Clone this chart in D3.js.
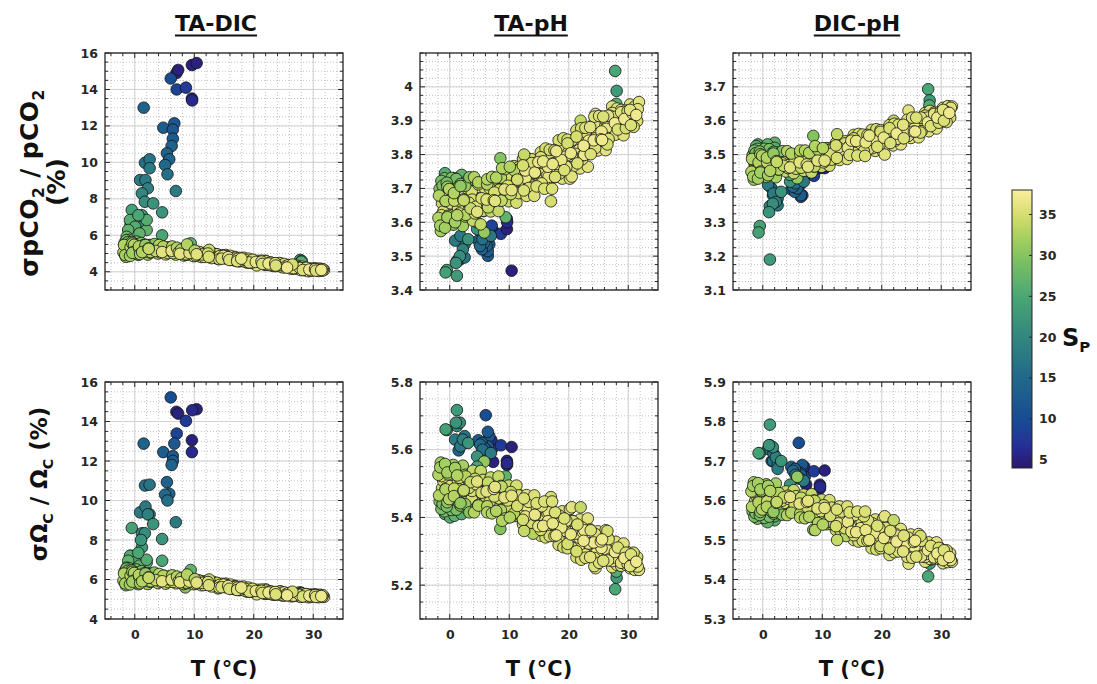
<!DOCTYPE html>
<html>
<head>
<meta charset="utf-8">
<script src="https://cdn.jsdelivr.net/npm/d3@7"></script>
<style>
  body { margin: 0; background: #fff; }
  svg { font-family: 'DejaVu Sans', sans-serif; }
</style>
</head>
<body>
<div id="chart"></div>
<script>
// ---- data: one entry per sample (outliers, greens, cold extras, band, band fill, edge points) ----
const sampleT = [
  7.0, 7.3, 7.05, 8.6, 9.6, 10.4, 9.6, 9.65, 6.05, 4.8,
  6.65, 6.4, 6.4, 6.2, 5.4, 5.8, 5.1, 5.5, 6.9, 4.6,
  1.5, 1.72, 2.5, 2.5, 0.9, 1.8, 2.2, 1.2, 1.7, 3.1,
  -0.5, -0.7, 1.2, 1.05, 27.8, 28.05, 28.0, 8.5, 9.4, 5.8,
  4.6,
  -0.8, 0.05, 2.0, -1.1, 0.8, 2.0, -1.35, 0.6,
  -1.7, -1.9, -1.3, -0.5, -0.3, 0.5, 0.6, 1.5, 1.6, -1.5, 2.5, 3.5, -0.9, 0.1,
  -1.4, -1.8, -1.1, -1.6, -1.2, -0.7, -1.4, -0.8,
  0.3, -0.1, 0.2, -0.4, 1.1, 0.7, 1.4, 0.9,
  1.8, 2.3, 1.6, 2.2, 3.3, 2.9, 3.2, 2.6,
  4.1, 3.7, 4.4, 3.9, 4.8, 5.3, 4.6, 5.2,
  6.3, 5.9, 6.2, 5.6, 7.1, 6.7, 7.4, 6.9,
  7.8, 8.3, 7.6, 8.2, 9.3, 8.9, 9.2, 8.6,
  10.1, 9.7, 10.4, 9.9, 10.8, 11.3, 10.6, 11.2,
  12.3, 11.9, 12.2, 11.6, 13.1, 12.7, 13.4, 12.9,
  13.8, 14.3, 13.6, 14.2, 15.3, 14.9, 15.2, 14.6,
  16.1, 15.7, 16.4, 15.9, 16.8, 17.3, 16.6, 17.2,
  18.3, 17.9, 18.2, 17.6, 19.1, 18.7, 19.4, 18.9,
  19.8, 20.3, 19.6, 20.2, 21.3, 20.9, 21.2, 20.6,
  22.1, 21.7, 22.4, 21.9, 22.8, 23.3, 22.6, 23.2,
  24.3, 23.9, 24.2, 23.6, 25.1, 24.7, 25.4, 24.9,
  25.8, 26.3, 25.6, 26.2, 27.3, 26.9, 27.2, 26.6,
  28.1, 27.7, 28.4, 27.9, 28.8, 29.3, 28.6, 29.2,
  30.3, 29.9, 30.2, 29.6, 31.1, 30.7, 31.4, 30.9,
  31.8,
  -0.4, -0.65, -0.3, 0.3, 0.75, 0.45, 1.8, 1.5, 1.25, 2.6, 2.35, 2.7,
  3.3, 3.75, 3.45, 4.8, 4.5, 4.25, 5.6, 5.35, 5.7, 6.3, 6.75, 6.45,
  7.8, 7.5, 7.25, 8.6, 8.35, 8.7, 9.3, 9.75, 9.45, 10.8, 10.5, 10.25,
  11.6, 11.35, 11.7, 12.3, 12.75, 12.45, 13.8, 13.5, 13.25, 14.6, 14.35, 14.7,
  15.3, 15.75, 15.45, 16.8, 16.5, 16.25, 17.6, 17.35, 17.7, 18.3, 18.75, 18.45,
  19.8, 19.5, 19.25, 20.6, 20.35, 20.7, 21.3, 21.75, 21.45, 22.8, 22.5, 22.25,
  23.6, 23.35, 23.7, 24.3, 24.75, 24.45, 25.8, 25.5, 25.25, 26.6, 26.35, 26.7,
  27.3, 27.75, 27.45, 28.8, 28.5, 28.25, 29.6, 29.35, 29.7, 30.3, 30.75, 30.45,
  31.6, 31.35, 31.5,
  17.0, 24.5, 12.5, 20.5, 8.8, 14.0, 26.5, 22.0
]

const sampleS = [
  6, 5, 9, 8, 5, 5, 6, 6, 10, 13,
  12, 12, 13, 14, 14, 14, 15, 16, 18, 22,
  14, 16, 17, 18, 18, 18, 19, 20, 21, 22,
  24, 24, 23, 22, 25, 23, 26, 30, 27, 31,
  25,
  26, 26, 27, 27, 27, 26, 28, 25,
  30, 33, 34, 29, 34, 33, 31, 30, 35, 32, 30, 34, 29, 33,
  29, 33, 35, 32, 29, 33, 35, 32,
  29, 33, 35, 32, 29, 33, 35, 32,
  30, 33, 35, 32, 30, 33, 35, 32,
  33, 35, 36, 34, 33, 35, 36, 34,
  33, 35, 36, 34, 33, 35, 36, 34,
  33, 35, 36, 34, 33, 35, 36, 34,
  33, 35, 36, 34, 34, 35.5, 36, 35,
  34, 35.5, 36, 35, 35, 36.5, 36, 35.5,
  35, 36.5, 37, 35.5, 35, 36.5, 36, 35.5,
  35, 36.5, 37, 35.5, 35, 36.5, 36, 35.5,
  35, 36.5, 37, 35.5, 35, 36.5, 36, 35.5,
  35, 37, 36, 35.5, 35, 36.5, 36, 35.5,
  35, 37, 36, 35.5, 35.5, 36.5, 37, 36,
  35.5, 36.5, 37, 36, 35.5, 36.5, 37, 36,
  35.5, 36.5, 37, 36, 35.5, 36.5, 37, 36,
  35.5, 36.5, 37, 36, 35.5, 36.5, 37, 36,
  35.5, 36.5, 36, 35, 35.5, 36.5, 36, 35,
  36,
  31, 34, 33, 31, 34, 33, 31, 34, 33, 31, 34, 33,
  33, 35, 34, 33, 35, 34, 33, 35, 34, 33, 35, 34,
  33, 35, 34, 33, 35, 34, 33, 35, 34, 33, 35, 34,
  33, 35, 34, 35, 36.5, 35.5, 35, 36.5, 35.5, 35, 36.5, 35.5,
  35, 36.5, 35.5, 35, 36.5, 35.5, 35, 36.5, 35.5, 35, 36.5, 35.5,
  35, 36.5, 35.5, 35, 36.5, 35.5, 35, 36.5, 35.5, 36, 37, 35.5,
  36, 37, 35.5, 36, 37, 35.5, 36, 37, 35.5, 36, 37, 35.5,
  36, 37, 35.5, 36, 37, 35.5, 36, 37, 35.5, 36, 37, 35.5,
  36, 37, 35.5,
  35, 36, 34, 36, 33, 33, 35, 34
]

// sigma pCO2 / pCO2 (%)
const taDicPco2 = [
  14.9, 15.07, 14.0, 14.1, 15.34, 15.45, 13.5, 13.4, 14.6, 11.9,
  12.14, 11.8, 11.3, 10.9, 10.5, 10.17, 9.86, 9.35, 8.43, 7.26,
  13.0, 9.98, 10.17, 9.68, 9.03, 9.03, 8.58, 8.3, 7.84, 7.75,
  7.39, 6.6, 7.1, 6.47, 4.65, 4.6, 4.55, 5.0, 5.56, 5.3,
  6.0,
  6.84, 6.47, 6.29, 6.29, 6.1, 6.84, 5.92, 7.1,
  5.59, 5.06, 5.32, 5.63, 5.16, 5.35, 4.93, 5.46, 5.22, 4.82, 5.47, 5.14, 5.75, 5.0,
  5.73, 5.47, 5.18, 4.92, 5.62, 5.35, 5.1, 4.87,
  5.66, 5.48, 5.26, 5.04, 5.58, 5.39, 5.17, 4.97,
  5.48, 5.28, 5.1, 4.94, 5.52, 5.38, 5.22, 5.05,
  5.47, 5.32, 5.15, 5.0, 5.38, 5.23, 5.08, 4.95,
  5.39, 5.28, 5.15, 5.02, 5.32, 5.2, 5.07, 4.94,
  5.22, 5.1, 4.99, 4.89, 5.22, 5.14, 5.03, 4.93,
  5.16, 5.06, 4.96, 4.86, 5.07, 4.98, 4.89, 4.81,
  5.07, 5.0, 4.91, 4.82, 5.02, 4.94, 4.84, 4.75,
  4.95, 4.86, 4.77, 4.69, 4.92, 4.87, 4.79, 4.72,
  4.87, 4.8, 4.72, 4.65, 4.79, 4.71, 4.64, 4.58,
  4.77, 4.72, 4.64, 4.57, 4.72, 4.65, 4.57, 4.5,
  4.64, 4.56, 4.49, 4.43, 4.61, 4.57, 4.5, 4.44,
  4.57, 4.51, 4.44, 4.38, 4.5, 4.43, 4.37, 4.32,
  4.48, 4.44, 4.37, 4.31, 4.43, 4.37, 4.3, 4.24,
  4.36, 4.29, 4.23, 4.18, 4.33, 4.29, 4.22, 4.16,
  4.28, 4.22, 4.15, 4.09, 4.21, 4.14, 4.08, 4.03,
  4.19, 4.15, 4.11, 4.06, 4.17, 4.13, 4.08, 4.04,
  4.1,
  5.55, 5.31, 5.07, 5.51, 5.29, 5.07, 5.47, 5.27, 5.08, 5.44, 5.26, 5.08,
  5.41, 5.24, 5.07, 5.38, 5.22, 5.07, 5.34, 5.19, 5.05, 5.28, 5.15, 5.02,
  5.23, 5.11, 4.99, 5.18, 5.07, 4.96, 5.14, 5.03, 4.92, 5.09, 4.99, 4.89,
  5.04, 4.95, 4.86, 5.0, 4.91, 4.82, 4.96, 4.87, 4.78, 4.91, 4.83, 4.75,
  4.86, 4.78, 4.71, 4.81, 4.73, 4.66, 4.76, 4.68, 4.61, 4.71, 4.63, 4.56,
  4.66, 4.58, 4.51, 4.6, 4.54, 4.47, 4.56, 4.5, 4.43, 4.51, 4.45, 4.39,
  4.47, 4.41, 4.34, 4.42, 4.36, 4.3, 4.37, 4.31, 4.25, 4.32, 4.26, 4.2,
  4.27, 4.21, 4.15, 4.22, 4.16, 4.1, 4.18, 4.12, 4.07, 4.15, 4.11, 4.06,
  4.14, 4.1, 4.06,
  4.6, 4.45, 5.2, 4.35, 5.5, 4.7, 4.4, 4.6
]

const taPhPco2 = [
  3.583, 3.575, 3.59, 3.566, 3.58, 3.457, 3.61, 3.6, 3.55, 3.546,
  3.535, 3.501, 3.515, 3.53, 3.52, 3.54, 3.53, 3.55, 3.56, 3.58,
  3.546, 3.49, 3.496, 3.535, 3.546, 3.56, 3.52, 3.486, 3.5, 3.55,
  3.459, 3.452, 3.442, 3.48, 4.047, 3.988, 3.95, 3.789, 3.615, 3.57,
  3.6,
  3.745, 3.7, 3.74, 3.72, 3.73, 3.71, 3.6, 3.68,
  3.699, 3.613, 3.656, 3.717, 3.635, 3.675, 3.593, 3.705, 3.653, 3.574, 3.717, 3.641, 3.73, 3.607,
  3.722, 3.679, 3.632, 3.59, 3.708, 3.663, 3.621, 3.584,
  3.731, 3.698, 3.656, 3.615, 3.728, 3.686, 3.641, 3.6,
  3.713, 3.668, 3.626, 3.589, 3.733, 3.7, 3.658, 3.617,
  3.733, 3.691, 3.646, 3.605, 3.718, 3.673, 3.631, 3.594,
  3.727, 3.7, 3.667, 3.634, 3.734, 3.701, 3.665, 3.632,
  3.732, 3.696, 3.663, 3.633, 3.757, 3.73, 3.697, 3.664,
  3.764, 3.731, 3.695, 3.662, 3.766, 3.727, 3.691, 3.658,
  3.787, 3.758, 3.722, 3.686, 3.789, 3.753, 3.714, 3.678,
  3.786, 3.747, 3.711, 3.678, 3.807, 3.778, 3.742, 3.706,
  3.818, 3.78, 3.738, 3.699, 3.814, 3.772, 3.734, 3.699,
  3.842, 3.81, 3.772, 3.733, 3.848, 3.81, 3.768, 3.729,
  3.844, 3.802, 3.764, 3.729, 3.872, 3.84, 3.802, 3.763,
  3.878, 3.84, 3.798, 3.759, 3.879, 3.837, 3.799, 3.764,
  3.912, 3.88, 3.842, 3.803, 3.914, 3.881, 3.845, 3.812,
  3.912, 3.876, 3.843, 3.813, 3.942, 3.915, 3.882, 3.849,
  3.936, 3.911, 3.884, 3.859, 3.932, 3.905, 3.88, 3.857,
  3.948, 3.928, 3.903, 3.878, 3.942, 3.922, 3.901, 3.882,
  3.955,
  3.705, 3.662, 3.619, 3.707, 3.664, 3.621, 3.707, 3.664, 3.621, 3.708, 3.665, 3.622,
  3.71, 3.667, 3.625, 3.712, 3.669, 3.626, 3.71, 3.671, 3.633, 3.712, 3.678, 3.644,
  3.722, 3.688, 3.654, 3.732, 3.698, 3.664, 3.742, 3.708, 3.674, 3.754, 3.718, 3.683,
  3.763, 3.726, 3.689, 3.768, 3.731, 3.694, 3.775, 3.738, 3.701, 3.783, 3.746, 3.709,
  3.792, 3.753, 3.715, 3.803, 3.764, 3.724, 3.813, 3.774, 3.734, 3.823, 3.784, 3.744,
  3.833, 3.794, 3.754, 3.843, 3.804, 3.764, 3.853, 3.814, 3.774, 3.866, 3.826, 3.786,
  3.881, 3.841, 3.801, 3.893, 3.856, 3.819, 3.902, 3.868, 3.834, 3.915, 3.881, 3.846,
  3.923, 3.893, 3.863, 3.925, 3.9, 3.874, 3.93, 3.905, 3.879, 3.932, 3.91, 3.887,
  3.934, 3.917, 3.899,
  3.662, 3.92, 3.8, 3.735, 3.76, 3.705, 3.83, 3.9
]

const dicPhPco2 = [
  3.45, 3.455, 3.46, 3.437, 3.46, 3.46, 3.465, 3.47, 3.41, 3.397,
  3.38, 3.375, 3.38, 3.41, 3.39, 3.4, 3.405, 3.415, 3.42, 3.42,
  3.4, 3.38, 3.37, 3.35, 3.41, 3.385, 3.36, 3.348, 3.355, 3.39,
  3.289, 3.27, 3.19, 3.33, 3.693, 3.66, 3.645, 3.555, 3.47, 3.43,
  3.44,
  3.53, 3.52, 3.535, 3.525, 3.53, 3.52, 3.47, 3.51,
  3.498, 3.449, 3.473, 3.509, 3.46, 3.483, 3.434, 3.502, 3.471, 3.426, 3.506, 3.467, 3.517, 3.443,
  3.512, 3.487, 3.46, 3.435, 3.504, 3.477, 3.452, 3.429,
  3.517, 3.497, 3.472, 3.447, 3.516, 3.491, 3.464, 3.439,
  3.508, 3.481, 3.456, 3.433, 3.51, 3.495, 3.475, 3.456,
  3.51, 3.49, 3.469, 3.45, 3.503, 3.482, 3.462, 3.445,
  3.512, 3.497, 3.477, 3.458, 3.512, 3.492, 3.471, 3.452,
  3.505, 3.484, 3.464, 3.447, 3.514, 3.5, 3.482, 3.465,
  3.519, 3.501, 3.482, 3.464, 3.519, 3.5, 3.483, 3.467,
  3.534, 3.52, 3.502, 3.485, 3.539, 3.521, 3.502, 3.484,
  3.539, 3.52, 3.503, 3.487, 3.558, 3.541, 3.52, 3.499,
  3.561, 3.54, 3.518, 3.497, 3.559, 3.536, 3.515, 3.496,
  3.573, 3.556, 3.535, 3.514, 3.575, 3.554, 3.532, 3.511,
  3.572, 3.549, 3.528, 3.509, 3.587, 3.57, 3.549, 3.528,
  3.591, 3.57, 3.548, 3.527, 3.588, 3.567, 3.547, 3.53,
  3.603, 3.588, 3.568, 3.549, 3.609, 3.589, 3.568, 3.549,
  3.609, 3.588, 3.568, 3.551, 3.623, 3.608, 3.588, 3.569,
  3.629, 3.609, 3.588, 3.569, 3.624, 3.607, 3.591, 3.577,
  3.638, 3.625, 3.61, 3.594, 3.643, 3.628, 3.611, 3.596,
  3.642,
  3.501, 3.475, 3.45, 3.502, 3.477, 3.451, 3.503, 3.478, 3.452, 3.501, 3.478, 3.456,
  3.499, 3.479, 3.459, 3.5, 3.48, 3.46, 3.5, 3.48, 3.46, 3.501, 3.481, 3.461,
  3.502, 3.482, 3.462, 3.503, 3.484, 3.465, 3.507, 3.489, 3.47, 3.513, 3.495, 3.477,
  3.52, 3.502, 3.484, 3.527, 3.509, 3.49, 3.533, 3.515, 3.497, 3.541, 3.521, 3.5,
  3.548, 3.526, 3.505, 3.553, 3.531, 3.51, 3.558, 3.536, 3.515, 3.563, 3.541, 3.519,
  3.567, 3.545, 3.523, 3.572, 3.55, 3.528, 3.578, 3.556, 3.534, 3.583, 3.562, 3.541,
  3.588, 3.568, 3.548, 3.595, 3.575, 3.555, 3.602, 3.582, 3.562, 3.609, 3.589, 3.569,
  3.615, 3.595, 3.575, 3.62, 3.602, 3.584, 3.625, 3.609, 3.593, 3.632, 3.616, 3.6,
  3.638, 3.623, 3.609,
  3.51, 3.63, 3.56, 3.5, 3.525, 3.49, 3.565, 3.6
]

// sigma Omega_C / Omega_C (%)
const taDicOmega = [
  14.49, 14.4, 13.39, 14.03, 13.05, 14.62, 12.45, 14.57, 15.22, 12.45,
  12.88, 12.25, 12.0, 11.8, 10.93, 10.34, 10.3, 10.0, 8.9, 8.05,
  12.88, 10.76, 10.8, 9.3, 9.4, 9.69, 9.3, 8.34, 8.34, 8.81,
  8.61, 7.2, 7.63, 8.0, 5.35, 5.3, 5.25, 5.6, 6.48, 6.1,
  6.95,
  7.2, 6.9, 6.85, 6.95, 6.7, 7.0, 6.6, 7.35,
  6.41, 5.93, 6.17, 6.47, 6.01, 6.2, 5.76, 6.3, 6.06, 5.71, 6.3, 5.97, 6.57, 5.85,
  6.55, 6.3, 6.04, 5.8, 6.44, 6.19, 5.96, 5.75,
  6.51, 6.33, 6.11, 5.89, 6.42, 6.23, 6.01, 5.81,
  6.31, 6.11, 5.93, 5.77, 6.35, 6.21, 6.05, 5.88,
  6.28, 6.13, 5.97, 5.82, 6.19, 6.04, 5.91, 5.79,
  6.21, 6.11, 5.99, 5.87, 6.15, 6.04, 5.92, 5.81,
  6.07, 5.96, 5.86, 5.77, 6.06, 5.99, 5.9, 5.81,
  6.02, 5.93, 5.84, 5.76, 5.94, 5.85, 5.78, 5.71,
  5.93, 5.87, 5.79, 5.72, 5.89, 5.81, 5.73, 5.65,
  5.82, 5.73, 5.66, 5.59, 5.79, 5.74, 5.67, 5.61,
  5.74, 5.67, 5.6, 5.53, 5.66, 5.59, 5.53, 5.47,
  5.64, 5.59, 5.52, 5.46, 5.59, 5.52, 5.45, 5.38,
  5.51, 5.44, 5.38, 5.32, 5.49, 5.44, 5.39, 5.33,
  5.44, 5.39, 5.33, 5.27, 5.39, 5.33, 5.28, 5.23,
  5.39, 5.34, 5.29, 5.23, 5.35, 5.3, 5.24, 5.18,
  5.31, 5.25, 5.2, 5.15, 5.32, 5.27, 5.22, 5.16,
  5.29, 5.24, 5.18, 5.12, 5.26, 5.2, 5.15, 5.1,
  5.25, 5.21, 5.17, 5.12, 5.23, 5.19, 5.14, 5.1,
  5.12,
  6.39, 6.16, 5.93, 6.35, 6.13, 5.92, 6.3, 6.11, 5.91, 6.27, 6.09, 5.91,
  6.23, 6.06, 5.9, 6.19, 6.04, 5.9, 6.15, 6.02, 5.89, 6.12, 6.0, 5.88,
  6.07, 5.96, 5.86, 6.03, 5.93, 5.84, 5.99, 5.9, 5.81, 5.95, 5.87, 5.79,
  5.91, 5.83, 5.75, 5.87, 5.79, 5.71, 5.83, 5.75, 5.67, 5.78, 5.71, 5.63,
  5.73, 5.66, 5.59, 5.68, 5.61, 5.54, 5.63, 5.56, 5.49, 5.58, 5.51, 5.44,
  5.53, 5.46, 5.39, 5.48, 5.42, 5.35, 5.43, 5.38, 5.32, 5.4, 5.34, 5.28,
  5.37, 5.31, 5.25, 5.34, 5.28, 5.22, 5.31, 5.26, 5.2, 5.29, 5.24, 5.18,
  5.27, 5.22, 5.16, 5.26, 5.2, 5.14, 5.24, 5.18, 5.13, 5.21, 5.17, 5.12,
  5.2, 5.16, 5.12,
  5.5, 5.4, 6.0, 5.25, 6.25, 5.55, 5.38, 5.5
]

const taPhOmega = [
  5.628, 5.564, 5.6, 5.613, 5.567, 5.608, 5.555, 5.56, 5.702, 5.628,
  5.64, 5.653, 5.61, 5.598, 5.62, 5.605, 5.615, 5.6, 5.59, 5.58,
  5.598, 5.62, 5.64, 5.62, 5.63, 5.61, 5.63, 5.67, 5.68, 5.62,
  5.658, 5.66, 5.717, 5.68, 5.188, 5.222, 5.24, 5.366, 5.521, 5.565,
  5.55,
  5.41, 5.4, 5.42, 5.43, 5.405, 5.41, 5.44, 5.495,
  5.447, 5.526, 5.486, 5.432, 5.512, 5.476, 5.555, 5.445, 5.494, 5.562, 5.43, 5.504, 5.418, 5.54,
  5.425, 5.465, 5.508, 5.548, 5.44, 5.483, 5.522, 5.558,
  5.422, 5.454, 5.494, 5.533, 5.423, 5.463, 5.506, 5.546,
  5.435, 5.478, 5.517, 5.553, 5.415, 5.447, 5.487, 5.526,
  5.415, 5.455, 5.498, 5.538, 5.435, 5.472, 5.506, 5.537,
  5.415, 5.443, 5.477, 5.511, 5.412, 5.446, 5.484, 5.518,
  5.419, 5.456, 5.49, 5.521, 5.397, 5.425, 5.459, 5.493,
  5.4, 5.431, 5.464, 5.494, 5.404, 5.437, 5.467, 5.494,
  5.38, 5.405, 5.435, 5.465, 5.372, 5.403, 5.436, 5.466,
  5.375, 5.408, 5.438, 5.465, 5.346, 5.374, 5.408, 5.442,
  5.341, 5.375, 5.413, 5.447, 5.345, 5.382, 5.416, 5.447,
  5.319, 5.347, 5.381, 5.415, 5.312, 5.346, 5.384, 5.418,
  5.309, 5.351, 5.39, 5.425, 5.282, 5.313, 5.352, 5.39,
  5.275, 5.314, 5.356, 5.394, 5.281, 5.323, 5.362, 5.397,
  5.256, 5.287, 5.326, 5.364, 5.266, 5.296, 5.329, 5.359,
  5.272, 5.305, 5.335, 5.362, 5.253, 5.278, 5.308, 5.338,
  5.26, 5.282, 5.306, 5.328, 5.257, 5.281, 5.303, 5.323,
  5.25, 5.263, 5.28, 5.296, 5.245, 5.262, 5.28, 5.296,
  5.245,
  5.445, 5.486, 5.527, 5.444, 5.485, 5.526, 5.442, 5.483, 5.524, 5.439, 5.48, 5.521,
  5.437, 5.478, 5.519, 5.437, 5.476, 5.514, 5.438, 5.473, 5.508, 5.433, 5.468, 5.503,
  5.427, 5.462, 5.497, 5.421, 5.456, 5.491, 5.417, 5.45, 5.483, 5.412, 5.443, 5.475,
  5.403, 5.434, 5.466, 5.393, 5.424, 5.456, 5.384, 5.415, 5.446, 5.373, 5.406, 5.439,
  5.363, 5.398, 5.433, 5.354, 5.389, 5.425, 5.345, 5.38, 5.415, 5.335, 5.37, 5.405,
  5.322, 5.36, 5.397, 5.31, 5.35, 5.389, 5.3, 5.34, 5.379, 5.291, 5.331, 5.37,
  5.283, 5.323, 5.362, 5.28, 5.315, 5.351, 5.278, 5.31, 5.341, 5.273, 5.305, 5.336,
  5.271, 5.298, 5.325, 5.266, 5.289, 5.311, 5.26, 5.28, 5.3, 5.256, 5.273, 5.291,
  5.255, 5.269, 5.283,
  5.46, 5.25, 5.36, 5.43, 5.39, 5.352, 5.36, 5.43
]

const dicPhOmega = [
  5.685, 5.64, 5.66, 5.674, 5.64, 5.676, 5.63, 5.635, 5.746, 5.685,
  5.69, 5.67, 5.665, 5.655, 5.68, 5.66, 5.675, 5.665, 5.65, 5.64,
  5.7, 5.7, 5.69, 5.68, 5.73, 5.72, 5.71, 5.74, 5.735, 5.7,
  5.719, 5.72, 5.792, 5.74, 5.408, 5.44, 5.45, 5.526, 5.6, 5.66,
  5.62,
  5.56, 5.555, 5.55, 5.565, 5.545, 5.56, 5.57, 5.6,
  5.572, 5.623, 5.598, 5.563, 5.614, 5.591, 5.641, 5.572, 5.604, 5.646, 5.568, 5.608, 5.554, 5.632,
  5.559, 5.584, 5.612, 5.637, 5.568, 5.595, 5.621, 5.644,
  5.556, 5.577, 5.602, 5.628, 5.559, 5.584, 5.612, 5.637,
  5.567, 5.594, 5.62, 5.643, 5.564, 5.58, 5.599, 5.618,
  5.563, 5.583, 5.604, 5.623, 5.569, 5.59, 5.609, 5.626,
  5.557, 5.573, 5.592, 5.611, 5.555, 5.575, 5.596, 5.615,
  5.559, 5.58, 5.599, 5.616, 5.543, 5.56, 5.58, 5.6,
  5.539, 5.559, 5.581, 5.602, 5.54, 5.562, 5.583, 5.601,
  5.525, 5.542, 5.562, 5.582, 5.522, 5.542, 5.564, 5.585,
  5.524, 5.546, 5.567, 5.585, 5.5, 5.521, 5.545, 5.57,
  5.496, 5.52, 5.547, 5.572, 5.498, 5.525, 5.549, 5.572,
  5.479, 5.5, 5.524, 5.549, 5.476, 5.5, 5.527, 5.552,
  5.479, 5.506, 5.53, 5.553, 5.462, 5.482, 5.507, 5.532,
  5.469, 5.488, 5.509, 5.528, 5.471, 5.492, 5.511, 5.528,
  5.457, 5.473, 5.492, 5.511, 5.455, 5.474, 5.495, 5.514,
  5.458, 5.479, 5.498, 5.515, 5.445, 5.461, 5.48, 5.499,
  5.452, 5.465, 5.48, 5.494, 5.453, 5.468, 5.481, 5.494,
  5.441, 5.453, 5.466, 5.48, 5.444, 5.454, 5.465, 5.474,
  5.445,
  5.571, 5.598, 5.624, 5.571, 5.598, 5.624, 5.571, 5.597, 5.624, 5.573, 5.596, 5.619,
  5.574, 5.594, 5.614, 5.572, 5.592, 5.612, 5.57, 5.59, 5.61, 5.567, 5.587, 5.607,
  5.563, 5.583, 5.603, 5.558, 5.579, 5.599, 5.552, 5.573, 5.594, 5.546, 5.567, 5.588,
  5.54, 5.561, 5.582, 5.535, 5.556, 5.577, 5.53, 5.551, 5.572, 5.521, 5.545, 5.568,
  5.512, 5.537, 5.563, 5.505, 5.53, 5.556, 5.498, 5.523, 5.549, 5.491, 5.517, 5.542,
  5.485, 5.511, 5.536, 5.48, 5.505, 5.531, 5.478, 5.5, 5.523, 5.476, 5.496, 5.516,
  5.471, 5.491, 5.511, 5.466, 5.486, 5.506, 5.462, 5.482, 5.502, 5.458, 5.478, 5.498,
  5.457, 5.474, 5.492, 5.456, 5.471, 5.485, 5.452, 5.466, 5.481, 5.449, 5.461, 5.474,
  5.449, 5.457, 5.466,
  5.56, 5.44, 5.5, 5.56, 5.525, 5.51, 5.51, 5.55
]

// tick labels
const xTicks = [0, 10, 20, 30]
const pco2Ticks = [4, 6, 8, 10, 12, 14, 16]
const taPhPco2Ticks = [3.4, 3.5, 3.6, 3.7, 3.8, 3.9, 4]
const dicPhPco2Ticks = [3.1, 3.2, 3.3, 3.4, 3.5, 3.6, 3.7]
const omegaTicks = [4, 6, 8, 10, 12, 14, 16]
const taPhOmegaTicks = [5.2, 5.4, 5.6, 5.8]
const dicPhOmegaTicks = [5.3, 5.4, 5.5, 5.6, 5.7, 5.8, 5.9]
const salinityTicks = [5, 10, 15, 20, 25, 30, 35]
const titles = ['TA-DIC', 'TA-pH', 'DIC-pH']

// ---- layout ----
let svgWidth = 1097,
  svgHeight = 684
let colLeft = [105, 420, 733]
let rowTop = [53, 382]
let titleX = [216, 531, 857]
let plotW = 238,
  plotH = 237
let xDomain = [-5, 35]
let xMinor = d3.range(-4, 35, 2)
let tickColor = '#262626'

// low-salinity outliers first, then the main cloud in a shuffled (but fixed) order
let nFixed = 49
let nBand = sampleT.length - nFixed
let drawOrder = d3.range(nFixed).concat(d3.range(nBand).map((b) => nFixed + ((b * 97) % nBand)))

let svg = d3
  .select('#chart')
  .append('svg')
  .attr('width', svgWidth)
  .attr('height', svgHeight)

let defs = svg.append('defs')

// haline-like colormap for practical salinity
let color = d3
  .scaleLinear()
  .domain([4, 6.7, 10, 15, 20, 25, 30, 33, 35, 38])
  .range(['#2a186c', '#262f98', '#184c93', '#21688a', '#32867f', '#4aa674', '#84c460', '#b4d462', '#d6de70', '#fbee9b'])
  .interpolate(d3.interpolateRgb)
  .clamp(true)

let panels = [
  { values: taDicPco2, col: 0, row: 0, domain: [3, 16], ticks: pco2Ticks, minor: 0.5 },
  { values: taPhPco2, col: 1, row: 0, domain: [3.4, 4.1], ticks: taPhPco2Ticks, minor: 0.025 },
  { values: dicPhPco2, col: 2, row: 0, domain: [3.1, 3.8], ticks: dicPhPco2Ticks, minor: 0.025 },
  { values: taDicOmega, col: 0, row: 1, domain: [4, 16], ticks: omegaTicks, minor: 0.5 },
  { values: taPhOmega, col: 1, row: 1, domain: [5.1, 5.8], ticks: taPhOmegaTicks, minor: 0.05 },
  { values: dicPhOmega, col: 2, row: 1, domain: [5.3, 5.9], ticks: dicPhOmegaTicks, minor: 0.025 },
]

panels.forEach((p, k) => {
  if (p.values.length !== sampleT.length) console.log('length mismatch in panel', k, p.values.length)

  let g = svg
    .append('g')
    .attr('transform', 'translate(' + colLeft[p.col] + ',' + rowTop[p.row] + ')')

  let x = d3.scaleLinear().domain(xDomain).range([0, plotW])
  let y = d3.scaleLinear().domain(p.domain).range([plotH, 0])

  let nMinor = Math.round((p.domain[1] - p.domain[0]) / p.minor)
  let yMinor = d3.range(0, nMinor + 1).map((i) => p.domain[0] + i * p.minor)

  // minor grid (dotted)
  let grid = g.append('g')
  grid
    .selectAll('.vmin')
    .data(xMinor)
    .enter()
    .append('line')
    .attr('x1', (d) => x(d))
    .attr('x2', (d) => x(d))
    .attr('y1', 0)
    .attr('y2', plotH)
    .attr('stroke', '#b4b4b4')
    .attr('stroke-width', 0.8)
    .attr('stroke-dasharray', '1,2')
  grid
    .selectAll('.hmin')
    .data(yMinor)
    .enter()
    .append('line')
    .attr('x1', 0)
    .attr('x2', plotW)
    .attr('y1', (d) => y(d))
    .attr('y2', (d) => y(d))
    .attr('stroke', '#b4b4b4')
    .attr('stroke-width', 0.8)
    .attr('stroke-dasharray', '1,2')

  // major grid (solid, light)
  grid
    .selectAll('.vmaj')
    .data(xTicks)
    .enter()
    .append('line')
    .attr('x1', (d) => x(d))
    .attr('x2', (d) => x(d))
    .attr('y1', 0)
    .attr('y2', plotH)
    .attr('stroke', '#d2d2d2')
    .attr('stroke-width', 1)
  grid
    .selectAll('.hmaj')
    .data(p.ticks)
    .enter()
    .append('line')
    .attr('x1', 0)
    .attr('x2', plotW)
    .attr('y1', (d) => y(d))
    .attr('y2', (d) => y(d))
    .attr('stroke', '#d2d2d2')
    .attr('stroke-width', 1)

  // points
  defs
    .append('clipPath')
    .attr('id', 'clip' + k)
    .append('rect')
    .attr('width', plotW)
    .attr('height', plotH)

  g.append('g')
    .attr('clip-path', 'url(#clip' + k + ')')
    .selectAll('circle')
    .data(drawOrder)
    .enter()
    .append('circle')
    .attr('cx', (i) => x(sampleT[i]))
    .attr('cy', (i) => y(p.values[i]))
    .attr('r', 5.8)
    .attr('fill', (i) => color(sampleS[i]))
    .attr('stroke', '#141414')
    .attr('stroke-width', 0.8)

  // inward ticks on all four sides
  let tk = g.append('g').attr('stroke', tickColor).attr('stroke-width', 1)
  xMinor.forEach((d) => {
    let len = xTicks.includes(d) ? 5 : 3
    tk.append('line').attr('x1', x(d)).attr('x2', x(d)).attr('y1', plotH).attr('y2', plotH - len)
    tk.append('line').attr('x1', x(d)).attr('x2', x(d)).attr('y1', 0).attr('y2', len)
  })
  yMinor.forEach((d) => {
    let len = p.ticks.some((t) => Math.abs(t - d) < 1e-6) ? 5 : 3
    tk.append('line').attr('x1', 0).attr('x2', len).attr('y1', y(d)).attr('y2', y(d))
    tk.append('line').attr('x1', plotW).attr('x2', plotW - len).attr('y1', y(d)).attr('y2', y(d))
  })

  // box
  g.append('rect')
    .attr('width', plotW)
    .attr('height', plotH)
    .attr('fill', 'none')
    .attr('stroke', tickColor)
    .attr('stroke-width', 1.3)

  // tick labels
  let yAxis = d3.axisLeft(y).tickValues(p.ticks).tickSize(0).tickPadding(7).tickFormat((d) => String(d))
  g.append('g')
    .call(yAxis)
    .call((a) => a.select('.domain').remove())
    .selectAll('text')
    .attr('fill', tickColor)
    .style('font-size', '12.5px')
    .style('font-weight', 'bold')
    .style('font-family', "'DejaVu Sans', sans-serif")

  if (p.row === 1) {
    let xAxis = d3.axisBottom(x).tickValues(xTicks).tickSize(0).tickPadding(11)
    g.append('g')
      .attr('transform', 'translate(0,' + plotH + ')')
      .call(xAxis)
      .call((a) => a.select('.domain').remove())
      .selectAll('text')
      .attr('fill', tickColor)
      .style('font-size', '12.5px')
      .style('font-weight', 'bold')
      .style('font-family', "'DejaVu Sans', sans-serif")

    svg
      .append('text')
      .attr('x', colLeft[p.col] + plotW / 2)
      .attr('y', 676)
      .attr('text-anchor', 'middle')
      .attr('font-size', 21)
      .attr('font-weight', 'bold')
      .attr('fill', '#111')
      .text('T (\u00B0C)')
  } else {
    // column title, underlined
    let t = svg
      .append('text')
      .attr('x', titleX[p.col])
      .attr('y', 31)
      .attr('text-anchor', 'middle')
      .attr('font-size', 22)
      .attr('font-weight', 'bold')
      .attr('fill', '#111')
      .text(titles[p.col])
    let tw = t.node().getComputedTextLength()
    svg
      .append('line')
      .attr('x1', titleX[p.col] - tw / 2)
      .attr('x2', titleX[p.col] + tw / 2)
      .attr('y1', 35.5)
      .attr('y2', 35.5)
      .attr('stroke', '#111')
      .attr('stroke-width', 2)
  }
})

// ---- y-axis labels ----
function richText(sel, parts) {
  parts.forEach((part) => {
    let ts = sel.append('tspan').text(part.t)
    if (part.sub) ts.attr('font-size', '0.62em').attr('dy', 6)
    if (part.up) ts.attr('dy', -6)
  })
}

let lab1 = svg
  .append('text')
  .attr('transform', 'translate(38,183) rotate(-90)')
  .attr('text-anchor', 'middle')
  .attr('font-size', 25)
  .attr('font-weight', 'bold')
  .attr('letter-spacing', 0.4)
  .attr('fill', '#111')
richText(lab1, [
  { t: '\u03C3pCO' },
  { t: '2', sub: true },
  { t: ' / pCO', up: true },
  { t: '2', sub: true },
])
svg
  .append('text')
  .attr('transform', 'translate(65,182) rotate(-90)')
  .attr('text-anchor', 'middle')
  .attr('font-size', 25)
  .attr('font-weight', 'bold')
  .attr('fill', '#111')
  .text('(%)')

let lab2 = svg
  .append('text')
  .attr('transform', 'translate(47,484) rotate(-90)')
  .attr('text-anchor', 'middle')
  .attr('font-size', 23)
  .attr('font-weight', 'bold')
  .attr('fill', '#111')
richText(lab2, [
  { t: '\u03C3\u03A9' },
  { t: 'C', sub: true },
  { t: ' / \u03A9', up: true },
  { t: 'C', sub: true },
  { t: ' (%)', up: true },
])

// ---- colorbar ----
let cbX = 1012,
  cbY = 190,
  cbW = 20,
  cbH = 278
let sScale = d3.scaleLinear().domain([4, 38]).range([cbY + cbH, cbY])

let grad = defs
  .append('linearGradient')
  .attr('id', 'cbGrad')
  .attr('x1', 0)
  .attr('y1', 1)
  .attr('x2', 0)
  .attr('y2', 0)
grad
  .selectAll('stop')
  .data(d3.range(0, 1.0001, 0.025))
  .enter()
  .append('stop')
  .attr('offset', (d) => d)
  .attr('stop-color', (d) => color(4 + d * 34))

svg
  .append('rect')
  .attr('x', cbX)
  .attr('y', cbY)
  .attr('width', cbW)
  .attr('height', cbH)
  .attr('fill', 'url(#cbGrad)')
  .attr('stroke', tickColor)
  .attr('stroke-width', 1)

let cb = svg.append('g')
salinityTicks.forEach((d) => {
  cb.append('line')
    .attr('x1', cbX + cbW)
    .attr('x2', cbX + cbW - 3)
    .attr('y1', sScale(d))
    .attr('y2', sScale(d))
    .attr('stroke', tickColor)
  cb.append('text')
    .attr('x', cbX + cbW + 7)
    .attr('y', sScale(d))
    .attr('dy', '0.35em')
    .attr('font-size', 12.5)
    .attr('font-weight', 'bold')
    .attr('fill', tickColor)
    .text(d)
})

let sp = svg
  .append('text')
  .attr('x', 1062)
  .attr('y', 346)
  .attr('font-size', 24)
  .attr('font-weight', 'bold')
  .attr('fill', '#111')
richText(sp, [{ t: 'S' }, { t: 'P', sub: true }])
</script>
</body>
</html>
